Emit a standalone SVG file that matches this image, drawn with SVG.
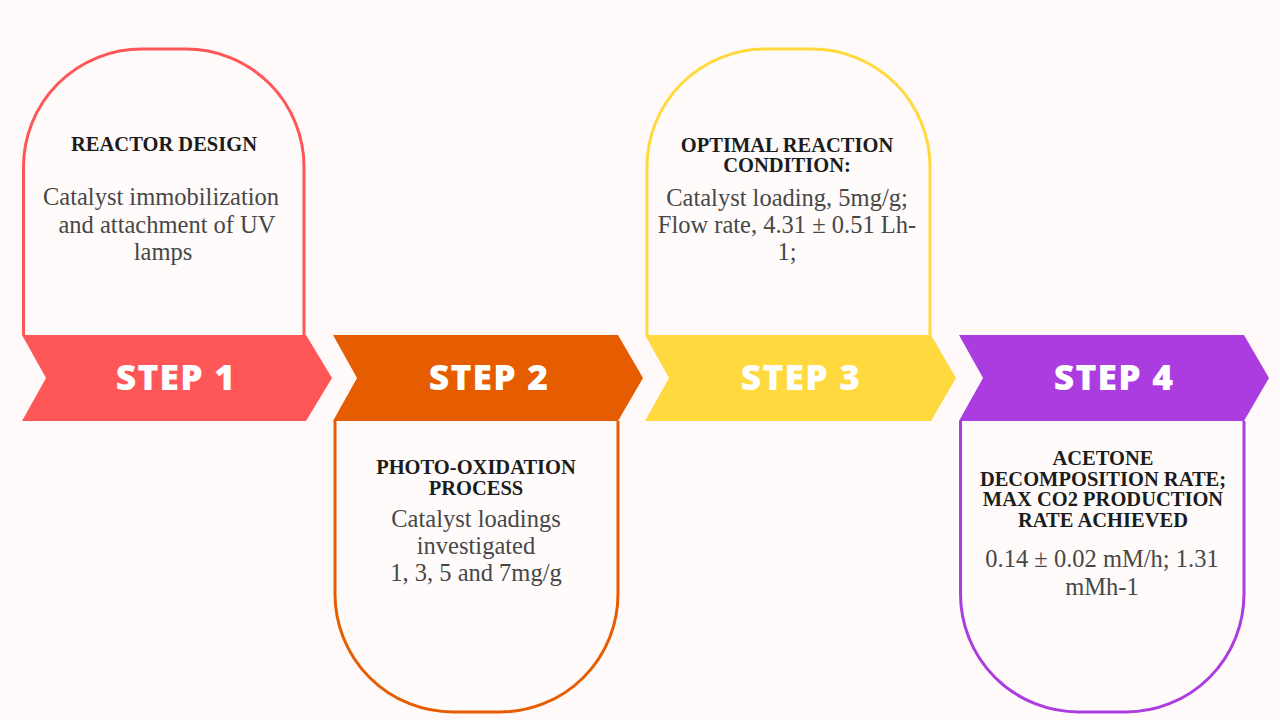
<svg xmlns="http://www.w3.org/2000/svg" width="1280" height="720" viewBox="0 0 1280 720">
  <style>
    .card { fill: #FFFBFA; stroke-width: 3; }
    .title { font-family: "Liberation Serif", "Times New Roman", serif; font-weight: bold; font-size: 20.5px; fill: #1C1C1C; text-anchor: middle; }
    .body { font-family: "Liberation Serif", "Times New Roman", serif; font-size: 24.5px; fill: #474747; text-anchor: middle; }
    .step { font-family: "Open Sans", "DejaVu Sans", sans-serif; font-weight: 800; font-size: 35.5px; fill: #FFFFFF; text-anchor: middle; letter-spacing: 1.2px; }
  </style>
  <rect x="0" y="0" width="1280" height="720" fill="#FFFAF9"/>

  <g id="step1">
    <path class="card" stroke="#FF5757" d="M23.5,335 V167 A118,118 0 0 1 141.5,49 H186 A118,118 0 0 1 304,167 V335"/>
    <polygon fill="#FF5757" points="22,335 306,335 332,378 306,421 22,421 46,378"/>
    <text class="step" x="176" y="390">STEP 1</text>
    <text class="title" x="164" y="151">REACTOR DESIGN</text>
    <text class="body" x="161" y="205">Catalyst immobilization</text>
    <text class="body" x="167" y="233">and attachment of UV</text>
    <text class="body" x="163" y="260">lamps</text>
  </g>

  <g id="step2">
    <path class="card" stroke="#E65C00" d="M335,421 V594 A118,118 0 0 0 453,712 H500 A118,118 0 0 0 618,594 V421"/>
    <polygon fill="#E65C00" points="333,335 618,335 643,378 618,421 333,421 357,378"/>
    <text class="step" x="489" y="390">STEP 2</text>
    <text class="title" x="476" y="474">PHOTO-OXIDATION</text>
    <text class="title" x="476" y="495">PROCESS</text>
    <text class="body" x="476" y="527">Catalyst loadings</text>
    <text class="body" x="476" y="554">investigated</text>
    <text class="body" x="476" y="581">1, 3, 5 and 7mg/g</text>
  </g>

  <g id="step3">
    <path class="card" stroke="#FFD93D" d="M647,335 V167 A118,118 0 0 1 765,49 H812 A118,118 0 0 1 930,167 V335"/>
    <polygon fill="#FFD93D" points="645,335 931,335 956,378 931,421 645,421 669,378"/>
    <text class="step" x="801" y="390">STEP 3</text>
    <text class="title" x="787" y="152">OPTIMAL REACTION</text>
    <text class="title" x="787" y="172">CONDITION:</text>
    <text class="body" x="787" y="206">Catalyst loading, 5mg/g;</text>
    <text class="body" x="787" y="233">Flow rate, 4.31 ± 0.51 Lh-</text>
    <text class="body" x="787" y="260">1;</text>
  </g>

  <g id="step4">
    <path class="card" stroke="#AB3DE0" d="M960.5,421 V594 A118,118 0 0 0 1078.5,712 H1126 A118,118 0 0 0 1244,594 V421"/>
    <polygon fill="#AB3DE0" points="959,335 1244,335 1269,378 1244,421 959,421 983,378"/>
    <text class="step" x="1114" y="390">STEP 4</text>
    <text class="title" x="1103" y="465">ACETONE</text>
    <text class="title" x="1103" y="486">DECOMPOSITION RATE;</text>
    <text class="title" x="1103" y="506">MAX CO2 PRODUCTION</text>
    <text class="title" x="1103" y="527">RATE ACHIEVED</text>
    <text class="body" x="1102" y="567">0.14 ± 0.02 mM/h; 1.31</text>
    <text class="body" x="1102" y="595">mMh-1</text>
  </g>

  <g id="connectors"></g>
</svg>
